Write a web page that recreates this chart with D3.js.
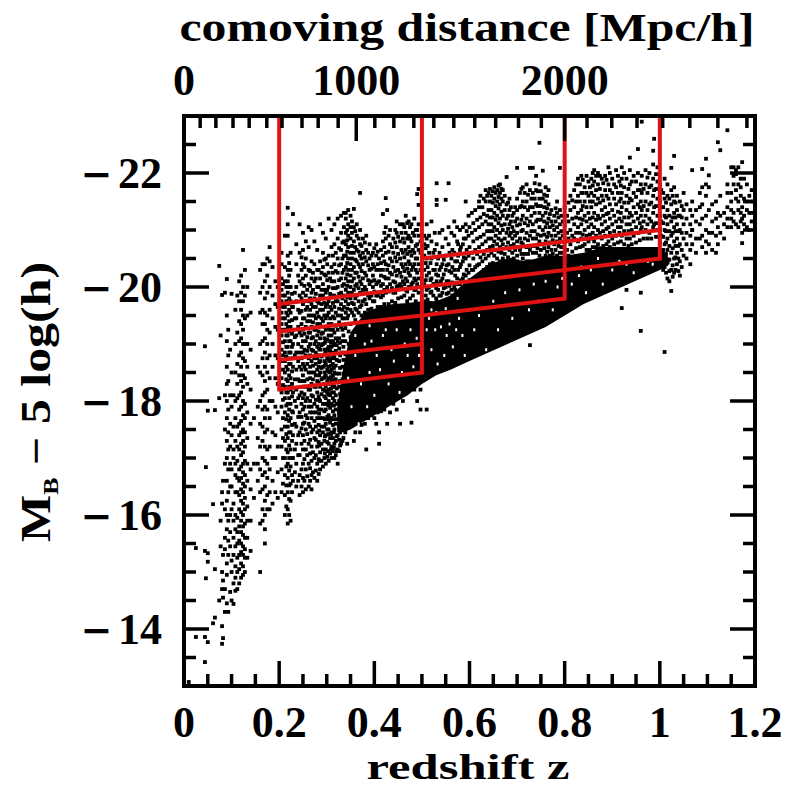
<!DOCTYPE html>
<html><head><meta charset="utf-8">
<script src="https://cdn.jsdelivr.net/npm/d3@7"></script>
<style>html,body{margin:0;background:#fff}svg{display:block}</style></head>
<body><svg id="c" width="787" height="787"></svg>
<script>
// Each column: [redshift, then (M_B - 5 log h) values as positive hundredths]
const nearColumns = [
[.01,1307],[.025,1386,1542],[.044,1342,1386,1537,1896],[.046,1489,1684],[.05,1377,1518,1533,1783],[.061,1410,1619],[.065,1420,1505,1784],
[.074,1805,2037,1450],[.077,1915,1590,1545],[.08,1374,1405,1986,1470,1500,1620,1640],[.082,1384,1455,1485,1530,1660],
[.086,1430,1470,1540,1560,1610,1690,1750,1810,1990],[.09,1445,1495,1515,1575,1600,1625,1660,1700,1730,1770,1800,1830,1860,1905,2014,1950],
[.093,1430,1530,1555,1590,1640,1680,1715,1745,1785,1835,1880,1925],[.097,1465,1545,1570,1600,1650,1690,1720,1760,1810,1890],[.1,1988,1450,1500,1520,1610,1650,1680,1740,1790,1850],
[.104,1444,1480,1530,1560,1590,1620,1700,1715,1755,1810],[.108,1467,1490,1510,1545,1575,1600,1640,1670,1690,1730,1770,1800,1850,1900,1960],
[.112,1470,1500,1525,1550,1570,1595,1640,1665,1695,1720,1755,1805,1830,1865,1920,1985],
[.116,1480,1505,1530,1555,1580,1610,1635,1660,1680,1715,1740,1760,1785,1810,1845,1880,1905,1940,1975,2010],
[.12,1490,1515,1535,1550,1570,1590,1605,1625,1645,1665,1685,1705,1725,1745,1765,1790,1815,1835,1860,1885,1910,1935,1960,1990,2020],
[.124,1495,1510,1530,1545,1565,1580,1600,1620,1640,1655,1675,1690,1710,1730,1750,1775,1800,1825,1845,1875,1900,1925,1950,1975,2000,2065],
[.128,1500,1525,1540,1560,1585,1610,1630,1650,1670,1695,1720,1745,1770,1795,1840,1870,1900,1945,1985,2030],
[.133,1525,1560,1590,1615,1660,1690,1735,1780,1830,1860,1900,1950,2000],
[.14,1537,1590,1645,1680,1760,1820,1890,1955],[.147,1630,1690,1770],
[.155,1660,1690,1735,1790,1860],[.16,1500,1585,1640,1680,1720,1760,1800,1850,1900,1955,1990,2030],
[.165,1590,1610,1645,1670,1700,1730,1755,1785,1810,1845,1875,1905,1935,1960,2000,2040],
[.17,1550,1575,1600,1625,1650,1675,1695,1720,1745,1770,1790,1815,1835,1860,1885,1910,1935,1955,1980,2010,2040],
[.175,1610,1635,1665,1690,1715,1750,1785,1820,1850,1875,1900,1925,1950,1990,2020,2050],
[.18,1610,1640,1680,1720,1770,1800,1840,1880,1920,1960,2000,2045,2070],[.186,1620,1660,1700,1745,1800,1860,1900,1945,1985,2035],
[.192,1640,1700,1740,1790,1840,1880,1930,1970,2010],[.197,1630,1675,1720,1780,1830,1875,1925,1965,2000]
];
const midColumns = [
[.205,1640,1680,1720,1750,1790,1815,1840,1870,1890,1915,1935,1955,1975,1995,2015,2040,2060],
[.212,1600,1635,1670,1700,1730,1755,1780,1805,1825,1850,1870,1885,1905,1925,1945,1965,1985,2010,2035,2090],
[.218,1585,1610,1640,1665,1690,1710,1735,1755,1775,1795,1815,1835,1855,1875,1895,1915,1930,1950,1970,1990,2010,2030,2055,2090,2110,2139],
[.224,1590,1625,1655,1685,1715,1745,1770,1795,1820,1840,1865,1885,1905,1930,1955,1975,2000,2030,2060],[.229,1660,1700,1740,1780,1815,1860,1900,1925,1965,2128],
[.236,1650,1690,1725,1755,1790,1820,1855,1885,1915,1945,1975,2000,2040,2075],
[.243,1635,1670,1705,1745,1780,1810,1835,1860,1885,1920,1955,1985,2010,2060,2110],
[.25,1640,1665,1690,1715,1740,1760,1785,1805,1825,1845,1865,1885,1905,1925,1945,1970,1990,2015,2040,2065,2095],
[.256,1645,1680,1715,1750,1775,1800,1825,1855,1880,1905,1930,1960,1985,2020,2050,2080],
[.262,1650,1690,1725,1760,1790,1820,1850,1875,1895,1920,1950,1975,2005,2030,2070,2105],
[.268,1645,1670,1695,1720,1745,1770,1790,1810,1830,1850,1870,1890,1910,1930,1950,1970,1990,2015,2045,2100],
[.274,1665,1700,1735,1765,1795,1825,1850,1875,1900,1925,1950,1980,2010,2040,2080],
[.28,1660,1690,1720,1745,1770,1790,1815,1835,1855,1875,1895,1915,1935,1955,1975,2000,2030,2065],
[.286,1680,1710,1740,1770,1800,1825,1850,1870,1890,1910,1935,1960,1985,2015,2045,2110],
[.292,1685,1715,1745,1770,1795,1820,1840,1860,1880,1900,1920,1940,1960,1985,2005,2035,2060,2095],
[.298,1690,1715,1740,1760,1785,1805,1825,1845,1865,1885,1905,1925,1945,1965,1990,2020,2050,2085],
[.304,1695,1725,1750,1775,1800,1820,1840,1860,1880,1895,1915,1935,1955,1975,2000,2025,2055,2120],
[.31,1700,1720,1745,1770,1795,1815,1835,1855,1875,1895,1915,1935,1960,1985,2010,2035,2070,2100],
[.316,1700,1725,1750,1775,1800,1825,1850,1875,1900,1920,1945,1965,1985,2010,2040,2075,2110],
[.323,1690,1715,1740,1905,1925,1950,1975,2000,2025,2050,2085,2120],
[.33,1725,1930,1950,1970,1990,2015,2040,2065,2095,2125],[.336,1945,1965,1985,2005,2030,2055,2080,2105,2130],
[.34,1955,1975,1995,2015,2035,2055,2075,2095,2120,2130],[.345,1950,1970,1990,2010,2030,2050,2070,2090,2110,2135],
[.35,1960,1980,2000,2020,2040,2060,2085,2105,2125],[.357,1730,1950,1970,1995,2015,2035,2060,2080,2105,2137],
[.363,1960,1985,2005,2025,2045,2065,2090,2110],[.37,1745,1965,1990,2010,2035,2055,2075,2100,2165],
[.376,1975,1995,2015,2040,2060,2085],[.383,1715,1970,1995,2020,2045,2065,2090],[.39,1980,2005,2030,2050,2075],
[.397,1975,2000,2020,2040,2060],[.404,1760,1985,2005,2030,2055,2075],[.41,1745,1725,1990,2010,2030,2050],
[.418,1985,2005,2030,2055,2080,2128],[.424,1990,2015,2040,2060,2085,2105,2156],[.427,1760,2000,2030,2135],
[.433,1780,2005,2025,2050,2075,2100],[.44,1795,1990,2010,2035,2060,2085],[.447,1785,2000,2020,2045,2070,2095,2115],
[.454,1810,1760,2005,2025,2050,2080,2110],[.46,1800,2010,2035,2060,2085,2110],[.466,1820,1995,2015,2040,2065,2095,2125],
[.472,1825,2000,2025,2045,2070,2090,2115],[.478,1835,1762,2005,2030,2055,2080,2110],[.484,1820,1995,2015,2040,2060,2090,2120],
[.49,1830,1800,2005,2025,2050,2075,2100,2163],[.493,1840,2144,2172,1990,2015,2040,2065,2090,2110],[.497,1820,1785,2000,2030,2060,2080]
];
const farColumns = [
[.505,2005,2030,2055,2075,2090,1840],[.51,1785,1995,2020,2050,2085,2110],[.515,2000,2025,2060,2090],[.52,1992,2015,2050,2080,2115],[.527,1850,2005,2030,2065,2095],
[.531,2153,2144,2182,1975,2010,2040,2075],[.537,1855,1985,2005,2030,2060,2095],[.543,1990,2015,2040,2070,2100],[.55,2153,1860,2000,2030,2055,2085],
[.556,2182,1870,1990,2010,2040,2075,2105],[.562,1995,2025,2050,2095],[.568,1880,2000,2030,2060,2090,2115],[.574,1990,2015,2045,2080,2105],
[.58,1890,2005,2035,2065,2100],[.586,2015,2045,2075,2105],[.592,1895,2020,2050,2085,2110,2150],[.598,2025,2055,2090,2125],
[.605,1900,2030,2060,2095,2130],[.612,1905,2035,2065,2100,2135],[.62,2040,2070,2105,2140,2150],[.627,1915,2045,2075,2110,2140],
[.634,1925,2050,2080,2115,2150,2170],[.64,2055,2085,2110,2135,2165],[.646,1930,2060,2085,2110,2135,2160],[.652,2055,2080,2105,2130,2155,2175],
[.658,1940,2050,2075,2100,2125,2150,2170],[.664,2045,2070,2095,2120,2145,2165,2180],[.67,2050,2075,2100,2125,2150,2170],
[.678,2045,2070,2095,2120,2145,2193],[.684,2040,2065,2090,2110,2135,2155],[.69,2035,2060,2085,2105,2125],
[.696,2040,2065,2090,2115,2140],[.70,2209,2045,2070,2095,2120,2155],[.706,1960,2040,2065,2085,2110,2140,2165],[.712,2050,2075,2100,2125,2150,2175],
[.72,2045,2070,2095,2120,2150,2180],[.727,1898,2209,2045,2065,2090,2115,2140,2170],[.733,2060,2085,2110,2140,2165,2209],[.74,2060,2085,2115,2145,2170,2195],
[.747,2253,2055,2080,2105,2130,2155,2180],[.754,2204,2050,2075,2100,2125,2155],[.76,2055,2080,2105,2130,2150,2175],[.766,2045,2070,2095,2120,2145,2170],
[.772,2040,2065,2090,2115,2135],[.778,2050,2075,2100,2125],[.784,2055,2080,2105,2130,2150],[.79,2209,2060,2085,2110,2135],[.796,2060,2090,2115],
[.805,1960,2065,2095,2125],[.812,2075,2100,2135,2160],[.82,1975,2085,2110,2140,2170],[.828,2080,2105,2130,2160,2190],[.835,2085,2110,2135,2165,2195],
[.842,1985,2075,2100,2125,2150,2175],[.85,2080,2105,2130,2160,2185],[.856,2085,2110,2140,2165,2190],[.862,2080,2105,2130,2160,2185,2205],
[.87,2075,2100,2125,2155,2180,2200],[.878,2085,2110,2135,2160,2190],[.885,2090,2115,2140,2170,2195],[.892,2080,2105,2130,2155,2180,2210],
[.90,2085,2110,2135,2165,2190],[.908,2090,2115,2145,2175,2205],[.915,2095,2120,2150,2185],[.92,1963,2090,2115,2140,2165,2190,2210],[.93,1995,2085,2110,2135,2160,2190],
[.937,2227,2085,2110,2130,2155,2180,2205],[.945,2090,2115,2140,2165,2195],[.954,2242,2095,2120,2145,2170,2200],[.96,1923,1990,2100,2125,2150,2180],
[.962,2290,2105,2135,2165,2195],[.97,2100,2125,2150,2180,2205],[.978,2095,2120,2145,2175,2200],[.986,2239,2105,2130,2160,2190,2215],[.988,2260,2110,2140,2170],[.995,2100,2125,2155,2185,2210]
];
const edgeColumns = [
[1.003,2040,2065,2090,2115,2140,2170],[1.01,1886,2035,2050,2075,2100,2125,2155,2190],[1.016,2015,2045,2065,2085,2110,2135,2160,2180],[1.024,1993,2209,2030,2060,2090,2115,2145,2170],
[1.03,2230,2025,2050,2080,2105,2130,2150,2175],[1.036,2040,2060,2085,2110,2135,2160],[1.042,2020,2045,2075,2100,2125,2150],[1.05,2055,2085,2110,2135,2165],
[1.056,2050,2075,2095,2120,2145],[1.064,2040,2065,2090,2110,2135],[1.068,2205,2075,2100,2125,2150,2100],[1.076,2060,2085,2115,2135],[1.084,2085,2110,2140,2165],
[1.089,2207,2070,2090,2120,2145,2175],[1.097,2225,2060,2080,2100,2125,2160,2180],[1.103,2196,2075,2095,2135,2175],[1.11,2065,2095,2115,2145],[1.118,2060,2090,2120,2150],
[1.122,2254,2075,2105,2130],[1.127,2240,2095,2125,2160],[1.135,2085,2110,2130],[1.142,2275,2180,2105,2120,2140,2165],[1.15,2120,2135,2150,2165,2105,2210],
[1.155,2115,2130,2180,2195,2210],[1.16,2110,2155,2170,2198,2205],[1.165,2105,2135,2150,2180,2210],[1.17,2115,2130,2160,2175,2190],
[1.173,2077,2095,2120,2140,2219],[1.177,2110,2125,2155,2190],[1.183,2105,2135,2150,2180],[1.188,2100,2130,2160],[1.193,2115,2130,2150,2170]
];
// Extra points read from the crowded streaks, between the columns above
const crowdColumns = [
[.208,1655,1700,1735,1770,1802,1828,1855,1880,1903,1925,1945,1965,1985,2005],[.215,1615,1652,1685,1715,1742,1768,1792,1815,1838,1860,1878,1895,1915,1935,1955,1975,2000],
[.221,1600,1628,1652,1678,1700,1722,1745,1765,1785,1805,1825,1845,1865,1885,1905,1922,1940,1960,1980,2000,2020,2042],
[.227,1640,1670,1700,1730,1758,1782,1808,1830,1852,1875,1895,1918,1942,1965,1988],[.233,1675,1715,1760,1800,1838,1880,1912,1945,1990],
[.24,1660,1705,1740,1772,1805,1838,1870,1900,1930,1960,2020],[.247,1650,1680,1725,1752,1772,1795,1815,1835,1855,1875,1895,1915,1935,1958,1980,2005,2030,2052],
[.253,1660,1698,1730,1762,1790,1812,1835,1860,1890,1918,1945,1975,2002,2035],[.259,1668,1705,1742,1770,1805,1838,1865,1888,1912,1940,1965,1995],
[.265,1660,1682,1708,1732,1755,1780,1800,1820,1840,1860,1880,1900,1920,1940,1960,1980,2002,2028],[.271,1675,1710,1750,1780,1808,1838,1862,1888,1912,1938,1965,1995,2025],
[.277,1678,1705,1732,1755,1780,1802,1825,1845,1865,1885,1905,1925,1945,1965,1988,2015],[.283,1672,1698,1728,1758,1785,1808,1832,1860,1880,1900,1922,1948,1972,2000,2030],
[.289,1695,1725,1755,1785,1812,1838,1858,1878,1898,1918,1945,1970,1995,2025],[.295,1700,1730,1755,1782,1808,1830,1850,1870,1890,1910,1930,1950,1972,1995,2022,2048],
[.301,1702,1728,1750,1772,1795,1815,1835,1855,1875,1890,1908,1928,1950,1970,1995,2012,2040],[.307,1708,1735,1762,1788,1810,1830,1850,1870,1888,1905,1925,1945,1965,1988,2015],
[.313,1712,1735,1758,1782,1805,1825,1845,1865,1885,1905,1925,1948,1972,1998,2025,2055],[.319,1705,1730,1760,1785,1810,1838,1862,1888,1910,1932,1955,1975,1998,2028,2060],
[.326,1712,1732,1755,1780,1800,1825,1848,1870,1892,1910,1938,1962,1988,2012,2038,2068],[.333,1730,1760,1790,1815,1838,1860,1885,1905,1925,1945,1960,1980,2002,2025,2050,2078],[.343,1725,1755,1945,1962,1982,2002,2022,2042,2062,2082,2100],
[.353,1955,1972,1990,2010,2030,2050,2072,2095,2115],[.36,1745,1942,1962,1980,2002,2025,2048,2070,2098],[.367,1955,1975,1998,2018,2040,2062,2085],
[.373,1758,1950,1968,1988,2005,2028,2050,2072],[.38,1760,1955,1978,2000,2025,2052,2078],[.387,1770,1960,1985,2012,2038,2060],[.394,1775,1962,1985,2010,2032,2055],
[.4,1770,1955,1975,1992,2012,2035,2068],[.407,1780,1965,1985,2008,2040,2062],[.414,1782,1965,1982,2002,2020,2042,2065],[.421,1785,1970,1995,2018,2045,2070,2095],
[.43,1800,1970,1992,2015,2038,2062,2090],[.437,1805,1975,1998,2022,2045,2070],[.444,1815,1972,1990,2008,2028,2052,2078,2100],[.45,1820,1980,2002,2030,2058,2088],
[.457,1825,1982,2000,2018,2040,2065,2095],[.463,1830,1985,2005,2028,2052,2078,2105],[.469,1835,1975,1992,2010,2032,2058,2085,2112],[.475,1842,1980,2000,2020,2040,2062,2085,2105],
[.481,1850,1985,2008,2035,2065,2095],[.487,1850,1975,1995,2012,2030,2050,2072,2100],
[.508,1975,1985,2012,2042,2068],[.512,1960,1978,1998,2035,2072],[.518,1958,1972,1990,2012,2042],[.524,1950,1968,1985,2005,2030,2060],[.53,1945,1962,1980,1998,2022],
[.534,1945,1970,1995,2020,2050],[.54,1950,1968,1985,2010,2035],[.546,1952,1975,1998,2022,2048],[.552,1958,1972,1988,2010,2038],[.558,1960,1978,2002,2028,2060],
[.564,1955,1970,1985,2008,2035,2065],[.57,1962,1978,1995,2020,2045],[.576,1968,1985,2005,2030,2055,2075],[.582,1970,1988,2012,2040,2070],[.588,1975,1998,2022,2052,2085],
[.594,1980,2000,2030,2065,2098],[.6,1995,2012,2038,2070,2105],[.608,2008,2030,2050,2080,2112],[.616,2015,2038,2058,2085,2118],[.623,2022,2052,2088,2122,2160],
[.63,2030,2058,2092,2128,2155],[.637,2035,2065,2098,2125,2160],[.643,2040,2070,2098,2122,2150,2172],[.649,2042,2072,2098,2122,2148,2168],[.655,2040,2065,2090,2118,2142,2165],
[.661,2040,2062,2085,2112,2138,2158,2178],[.667,2038,2060,2082,2108,2132,2155,2172],[.674,2035,2058,2085,2110,2135,2160],[.681,2030,2052,2078,2102,2125,2148],[.687,2025,2048,2072,2095,2115,2140],
[.693,2028,2050,2075,2098,2130],[.70,2030,2055,2080,2108,2135],[.709,2035,2058,2078,2098,2118,2142,2172],[.716,2030,2058,2085,2112,2140,2165],[.723,2035,2058,2082,2108,2135,2162],
[.73,2040,2072,2098,2125,2155],[.737,2045,2072,2098,2130,2155,2182],[.743,2042,2068,2092,2118,2142,2168],[.75,2040,2065,2090,2118,2142,2168],[.757,2042,2068,2092,2115,2140,2162],
[.763,2038,2062,2088,2112,2138,2160],[.769,2032,2055,2078,2105,2128],[.775,2030,2058,2082,2108],[.781,2040,2065,2090,2115,2138],[.787,2045,2072,2095,2122],
[.793,2045,2070,2098,2125],[.80,2050,2078,2108,2140],[.808,2055,2085,2115,2148],[.816,2062,2090,2120,2152],[.824,2068,2095,2122,2150,2180],[.832,2070,2095,2120,2150,2180],
[.838,2072,2092,2118,2142,2165,2188],[.846,2065,2090,2115,2140,2165,2195],[.853,2065,2092,2120,2150,2175],[.859,2070,2095,2122,2150,2178,2200],[.866,2070,2090,2118,2145,2170,2195],
[.874,2068,2095,2120,2148,2172,2195],[.881,2072,2098,2125,2152,2182],[.888,2075,2102,2128,2160,2188],[.895,2070,2095,2120,2145,2170,2200],[.904,2075,2098,2125,2155,2180],
[.912,2078,2105,2132,2165,2195],[.918,2080,2105,2130,2155,2178],[.925,2075,2098,2122,2148,2175,2200],[.934,2072,2098,2122,2148,2172],[.941,2075,2100,2125,2152,2185],
[.95,2078,2105,2130,2158,2185],[.958,2082,2112,2140,2170],[.966,2085,2115,2142,2172],[.974,2085,2110,2135,2165,2192],[.982,2085,2115,2148,2178],[.992,2088,2112,2142,2172,2198],
[1.0,2040,2058,2078,2100,2125,2150,2180],[1.007,2030,2045,2065,2088,2112,2140,2165],[1.013,2025,2040,2058,2078,2098,2122,2148],[1.02,2010,2028,2048,2072,2098,2125,2155],
[1.027,2018,2038,2068,2095,2122,2160],[1.033,2030,2052,2072,2098,2122,2148],[1.039,2028,2050,2072,2098,2125],[1.046,2035,2065,2095,2122,2142]
];
// Points in the dark wedge below z = 0.35, where the streaks merge
const wedgeColumns = [
[.284,1695,1722,1748,1778,1802,1845,1868,1892],[.296,1708,1738,1768,1795,1818,1842,1862,1882,1902],[.303,1712,1742,1768,1792,1812,1832,1852,1872,1892],
[.309,1715,1742,1768,1795,1822,1842,1862,1882,1902],[.315,1718,1745,1768,1792,1815,1838,1858,1878,1898],[.321,1712,1738,1768,1795,1822,1848,1872,1898],
[.328,1722,1745,1768,1792,1812,1835,1858,1880,1902],[.335,1735,1768,1798,1822,1848,1872,1895,1915],[.339,1745,1782,1808,1832,1858,1882,1905,1928],
[.346,1878,1900,1922],[.35,1912,1935]
];
// Solid overlap of the point cloud: redshift, brightest and faintest edge
const coreZ = [.322,.335,.35,.38,.41,.44,.47,.50,.53,.56,.60,.64,.68,.72,.76,.80,.84,.88,.92,.96,1.0,1.02];
const coreBright = [17.9,18.6,19.2,19.55,19.65,19.7,19.72,19.75,19.75,19.85,20.15,20.4,20.5,20.45,20.55,20.55,20.6,20.7,20.7,20.7,20.7,20.5];
const coreFaint = [17.45,17.45,17.5,17.65,17.8,17.95,18.1,18.3,18.45,18.55,18.7,18.85,19.0,19.15,19.3,19.5,19.7,19.85,20.0,20.15,20.3,20.4];
// White specks left between overlapping points inside the solid region: [z, positive hundredths]
const coreSpecks = [[.345,1840],[.352,1790],[.36,1880],[.367,1760],[.372,1830],[.38,1900],[.385,1790],[.39,1850],[.394,1905],[.4,1810],[.405,1880],[.412,1855],[.418,1915],[.424,1925],[.43,1830],[.436,1890],[.441,1870],[.447,1925],[.453,1815],[.458,1850],[.464,1900],[.47,1880],[.476,1925],[.482,1860],[.489,1910],[.494,1880],
[.51,1925],[.515,1945],[.52,1890],[.528,1925],[.533,1865],[.54,1930],[.547,1880],[.552,1915],[.558,1935],[.565,1895],[.572,1925],[.578,1945],[.585,1915],[.59,1880],[.6,1960],[.61,1925],[.62,1950],[.635,1890],[.65,1975],[.66,1925],[.675,1990],[.69,1945],[.705,1995],[.725,1960],[.735,2005],[.745,1975],[.76,2010],[.775,1960],[.785,2000],[.795,2015],[.815,2005],[.83,2020],[.835,2035],[.845,1990],[.855,2030],[.87,2050],[.88,2005],[.9,2030],[.915,2045],[.93,2040],[.945,2025],[.975,2045],[.985,2040],[.45,1945],[.42,1942],[.39,1932],[.36,1915],[.53,1955],[.55,1962],[.575,1980],[.52,1960]];
// Red selection boxes: [z from, z to, M from, M to]
const redSlopes = [[.2,.5,-19.7,-20],[.2,.5,-19.22,-19.5],[.2,.5,-18.72,-19],[.2,.5,-18.2,-18.5],
 [.5,.8,-20.5,-20.8],[.8,1,-20.8,-21],[.5,.8,-20,-20.3],[.8,1,-20.3,-20.5],[.5,.8,-19.5,-19.8]];
const redWalls = [[.2,-18.2],[.5,-18.5],[.8,-19.8],[1,-20.5]];
// Top axis: comoving distance ticks and the redshift each falls on
const distTicks = [100,200,300,400,500,600,700,800,900,1000,1100,1200,1300,1400,1500,1600,1700,1800,1900,2000,2100,2200,2300,2400,2500,2600,2700];
const distTickZ = [.034,.067,.103,.137,.174,.206,.248,.282,.324,.362,.401,.441,.483,.525,.567,.611,.655,.703,.751,.800,.847,.899,.952,1.006,1.063,1.122,1.183];
const distLabels = [[0,0],[1000,.362],[2000,.800]];
const zLabels = [0,.2,.4,.6,.8,1,1.2];
const magLabels = [-22,-20,-18,-16,-14];

const svg = d3.select('#c');
const L=184,R=755,T=116,B=686;
const x = d3.scaleLinear().domain([0,1.2]).range([L,R]);
const y = d3.scaleLinear().domain([-23,-13]).range([T,B]);
const serif = '"Liberation Serif"';

// points
const cols = [...nearColumns,...midColumns,...crowdColumns,...wedgeColumns,...farColumns,...edgeColumns];
const pts = cols.flatMap(c=>c.slice(1).map(m=>[c[0],-m/100]));
const S=3.8;
svg.append('path').attr('fill','#000')
 .attr('d',d3.area().x((d,i)=>x(coreZ[i])).y0((d,i)=>y(-coreFaint[i])).y1((d,i)=>y(-coreBright[i])).curve(d3.curveLinear)(coreZ));
svg.append('g').selectAll('rect').data(pts).join('rect')
 .attr('x',d=>x(d[0])-S/2).attr('y',d=>y(d[1])-S/2).attr('width',S).attr('height',S).attr('fill','#000');
svg.append('g').selectAll('rect').data(coreSpecks).join('rect')
 .attr('x',d=>x(d[0])-1).attr('y',d=>y(-d[1]/100)-1.5).attr('width',2).attr('height',3).attr('fill','#fff');

// red
const red='#e01212';
const rg=svg.append('g').attr('stroke',red).attr('stroke-width',4).attr('fill','none');
rg.selectAll('.s').data(redSlopes).join('line').attr('x1',d=>x(d[0])).attr('x2',d=>x(d[1])).attr('y1',d=>y(d[2])).attr('y2',d=>y(d[3]));
rg.selectAll('.w').data(redWalls).join('line').attr('x1',d=>x(d[0])).attr('x2',d=>x(d[0])).attr('y1',y(-23)).attr('y2',d=>y(d[1])+2);

// ticks + frame
const tg=svg.append('g').attr('stroke','#000').attr('stroke-width',3.5);
const tick=(x1,y1,x2,y2)=>tg.append('line').attr('x1',x1).attr('y1',y1).attr('x2',x2).attr('y2',y2);
d3.range(1,24).forEach(i=>{const z=i*.05,len=i%4==0?25:12;tick(x(z),B,x(z),B-len);});
d3.range(1,20).forEach(i=>{const m=-23+i*.5,len=i%4==2?25:12;tick(L,y(m),L+len,y(m));tick(R,y(m),R-len,y(m));});
distTicks.forEach((d,i)=>{const len=d%1000==0?25:12;tick(x(distTickZ[i]),T,x(distTickZ[i]),T+len);});
svg.append('rect').attr('x',L).attr('y',T).attr('width',R-L).attr('height',B-T).attr('fill','none').attr('stroke','#000').attr('stroke-width',4);

// text
const txt=(s,px,py,o={})=>svg.append('text').text(s).attr('x',px).attr('y',py)
 .attr('font-family',o.f||serif).attr('font-weight','bold').attr('font-size',o.s||44).attr('text-anchor',o.a||'middle')
 .attr('letter-spacing',o.ls||0);
zLabels.forEach(z=>txt(String(z),x(z),737));
distLabels.forEach(d=>txt(String(d[0]),x(d[1]),95));
magLabels.forEach(m=>{txt(String(Math.abs(m)),162,y(m)+15,{a:'end'});
  txt('\u2212',96.5,y(m)+14,{f:'"DejaVu Sans"',s:38});});
txt('redshift z',468,779,{s:36}).attr('textLength',203).attr('lengthAdjust','spacingAndGlyphs');
txt('comoving distance [Mpc/h]',467,41,{s:41}).attr('textLength',575).attr('lengthAdjust','spacingAndGlyphs');
const yl=svg.append('text').attr('transform','translate(50,402) rotate(-90)').attr('text-anchor','middle')
 .attr('font-family',serif).attr('font-weight','bold').attr('font-size',42).attr('textLength',280).attr('lengthAdjust','spacingAndGlyphs');
yl.append('tspan').text('M');
yl.append('tspan').text('B').attr('font-size',22).attr('dy',8);
yl.append('tspan').text(' \u2212 5 log(h)').attr('dy',-8);
</script></body></html>
